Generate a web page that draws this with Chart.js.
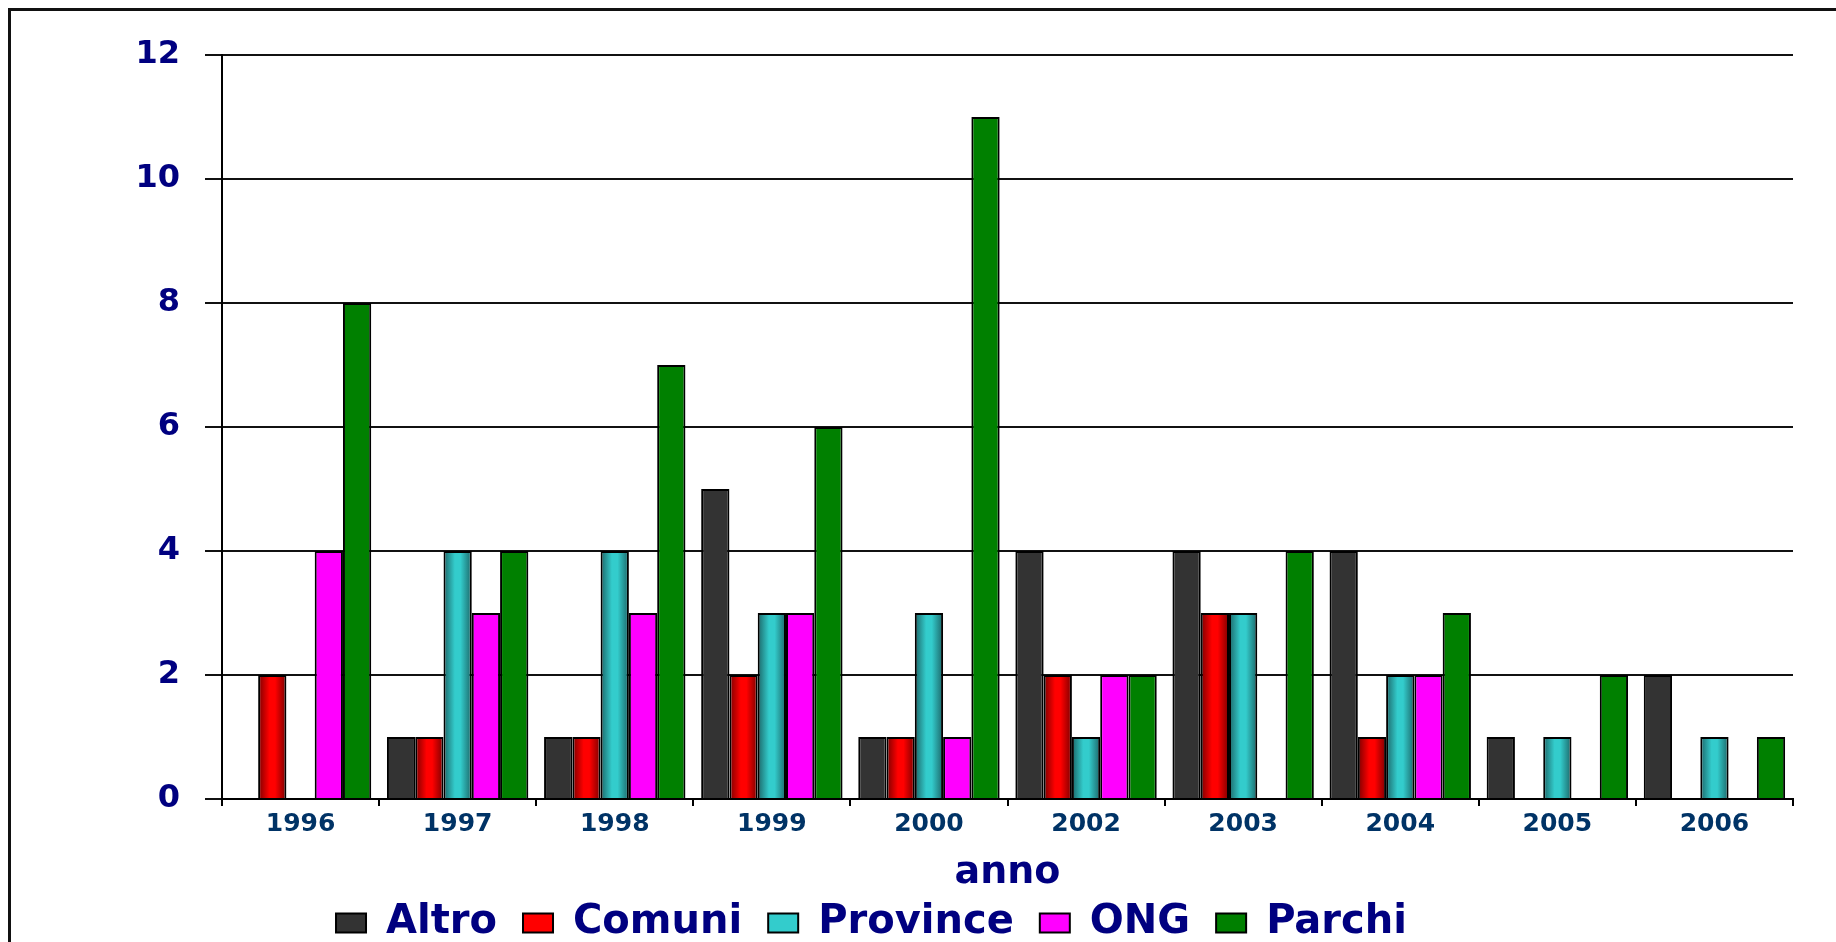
<!DOCTYPE html>
<html>
<head>
<meta charset="utf-8">
<script src="https://cdn.jsdelivr.net/npm/chart.js@4/dist/chart.umd.min.js"></script>
<style>
  html, body { margin: 0; padding: 0; background: #fff; }
  #wrap { position: relative; width: 1836px; height: 942px; overflow: hidden; }
  #frame { position: absolute; left: 8px; top: 8px; width: 1900px; height: 1000px;
           border-left: 3px solid #111; border-top: 3px solid #111; }
  canvas { position: absolute; left: 0; top: 0; }
</style>
</head>
<body>
<div id="wrap">
  <div id="frame"></div>
  <canvas id="chart" width="1836" height="942"></canvas>
</div>
<script>
const anni = ['1996', '1997', '1998', '1999', '2000', '2002', '2003', '2004', '2005', '2006'];
const altro    = [0, 1, 1, 5, 1, 4, 4, 4, 1, 2];
const comuni   = [2, 1, 1, 2, 1, 2, 3, 1, 0, 0];
const province = [0, 4, 4, 3, 3, 1, 3, 2, 1, 1];
const ong      = [4, 3, 3, 3, 1, 2, 0, 2, 0, 0];
const parchi   = [8, 4, 7, 6, 11, 2, 4, 3, 2, 1];

const font = 'DejaVu Sans';
const navy = '#000080';

// red and teal bars get a dark-edged horizontal shading, like the original
const shine = {
  id: 'shine',
  beforeDatasetsDraw(chart) {
    const c = chart.ctx;
    chart.data.datasets.forEach((ds, i) => {
      if (!ds.edge) return;
      chart.getDatasetMeta(i).data.forEach(bar => {
        const g = c.createLinearGradient(bar.x - bar.width / 2, 0, bar.x + bar.width / 2, 0);
        g.addColorStop(0, ds.edge);
        g.addColorStop(0.4, ds.backgroundColor);
        g.addColorStop(0.6, ds.backgroundColor);
        g.addColorStop(1, ds.edge);
        bar.options = Object.assign({}, bar.options, { backgroundColor: g });
      });
    });
  }
};

// legend sits a bit left of centre and tucked up under the axis title
const nudge = {
  id: 'nudge',
  afterLayout(chart) {
    const lg = chart.legend;
    lg.left -= 25;
    lg.right -= 25;
    lg.top -= 15;
    lg.bottom -= 15;
  }
};

function bars(label, values, color, edge) {
  return {
    label: label,
    data: values,
    backgroundColor: color,
    edge: edge,
    borderColor: '#000',
    borderWidth: 2,
    borderSkipped: 'bottom',
  };
}

new Chart(document.getElementById('chart'), {
  type: 'bar',
  data: {
    labels: anni,
    datasets: [
      bars('Altro', altro, '#333333'),
      bars('Comuni', comuni, '#ff0000', '#7a0000'),
      bars('Province', province, '#33cccc', '#1c6668'),
      bars('ONG', ong, '#ff00ff'),
      bars('Parchi', parchi, '#008000'),
    ],
  },
  options: {
    responsive: false,
    animation: false,
    layout: { padding: { left: 0, right: 43, top: 55, bottom: -26 } },
    datasets: { bar: { categoryPercentage: 0.9, barPercentage: 1.0 } },
    scales: {
      x: {
        grid: { drawOnChartArea: false, drawTicks: true, tickLength: 7, color: '#000', lineWidth: 2 },
        border: { color: '#000', width: 2 },
        ticks: { color: '#003366', font: { family: font, size: 25, weight: 'bold', lineHeight: 1 }, padding: 6 },
        title: {
          display: true, text: 'anno', color: navy,
          font: { family: font, size: 38, weight: 'bold', lineHeight: 1 }, padding: { top: 11, bottom: 0 },
        },
      },
      y: {
        min: 0, max: 12,
        afterFit(scale) { scale.width = 222; },
        grid: { color: '#111', lineWidth: 2, tickLength: 17 },
        border: { color: '#000', width: 2 },
        ticks: { stepSize: 2, color: navy, padding: 25, font: { family: font, size: 32, weight: 'bold' } },
      },
    },
    plugins: {
      tooltip: { enabled: false },
      legend: {
        position: 'bottom',
        labels: {
          color: navy,
          boxWidth: 30,
          boxHeight: 19,
          padding: 26,
          font: { family: font, size: 40, weight: 'bold' },
        },
      },
    },
  },
  plugins: [shine, nudge],
});
</script>
</body>
</html>
